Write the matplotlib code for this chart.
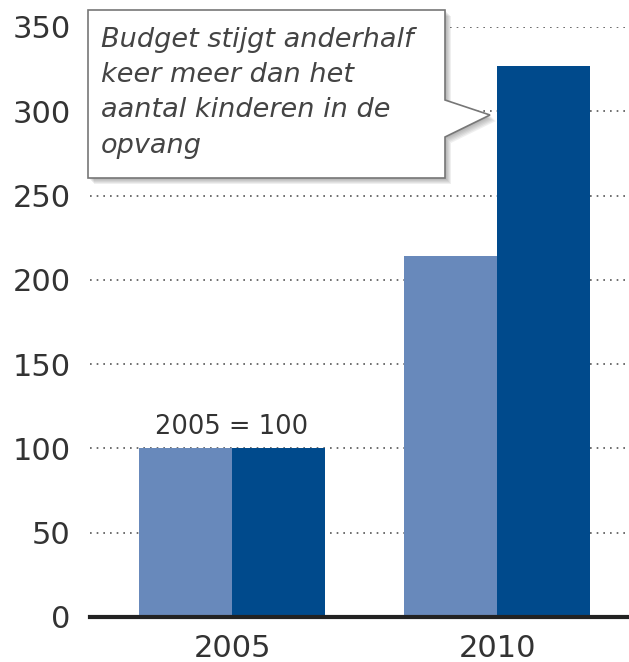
import matplotlib.pyplot as plt
from matplotlib.patches import Polygon
import numpy as np

# data
years = ["2005", "2010"]
kinderen = [100, 214]   # light bars
budget = [100, 327]     # dark bars
yticks = [0, 50, 100, 150, 200, 250, 300, 350]
callout = "Budget stijgt anderhalf\nkeer meer dan het\naantal kinderen in de\nopvang"
base_label = "2005 = 100"

light = "#6889bb"
dark = "#004a8c"
W, H = 629, 662

fig = plt.figure(figsize=(W / 100, H / 100), dpi=100)
ax = fig.add_axes([90 / W, 1 - 617 / H, 1 - 90 / W, (617 - 27) / H])

x = np.arange(len(years))
w = 0.35
ax.bar(x - w / 2, kinderen, w, color=light, zorder=2)
ax.bar(x + w / 2, budget, w, color=dark, zorder=2)

ax.set_xlim(-0.536, 1.498)
ax.set_ylim(0, 350)
ax.set_yticks(yticks)
ax.set_xticks(x)
ax.set_xticklabels(years)
for v in yticks[1:]:
    ax.axhline(v, color="#555555", lw=1.2, ls=(0, (1, 3)), zorder=1)
ax.axhline(0, color="#222222", lw=3, zorder=3, clip_on=False)
for s in ax.spines.values():
    s.set_visible(False)
ax.tick_params(length=0, labelsize=22, labelcolor="#333333")
ax.tick_params(axis="y", pad=14)
ax.tick_params(axis="x", pad=12)

ax.text(0, 105, base_label, ha="center", va="bottom", fontsize=18.5, color="#333333")

# callout box (pixel coords -> figure fraction)
def fpts(pts, dx=0, dy=0):
    return [((px + dx) / W, 1 - (py + dy) / H) for px, py in pts]

box = [(88, 10), (445, 10), (445, 100), (490, 115), (445, 137), (445, 178), (88, 178)]
for k in range(1, 7):
    fig.patches.append(Polygon(fpts(box, k, k), closed=True, transform=fig.transFigure,
                               facecolor="#555555", alpha=0.09, edgecolor="none", zorder=4))
fig.patches.append(Polygon(fpts(box), closed=True, transform=fig.transFigure,
                           facecolor="white", edgecolor="#777777", lw=1.2, zorder=5))
fig.text(101 / W, 1 - 27 / H, callout, ha="left", va="top", fontsize=19.5,
         style="italic", color="#444444", linespacing=1.46, zorder=6)

fig.savefig("out.png", dpi=100)
